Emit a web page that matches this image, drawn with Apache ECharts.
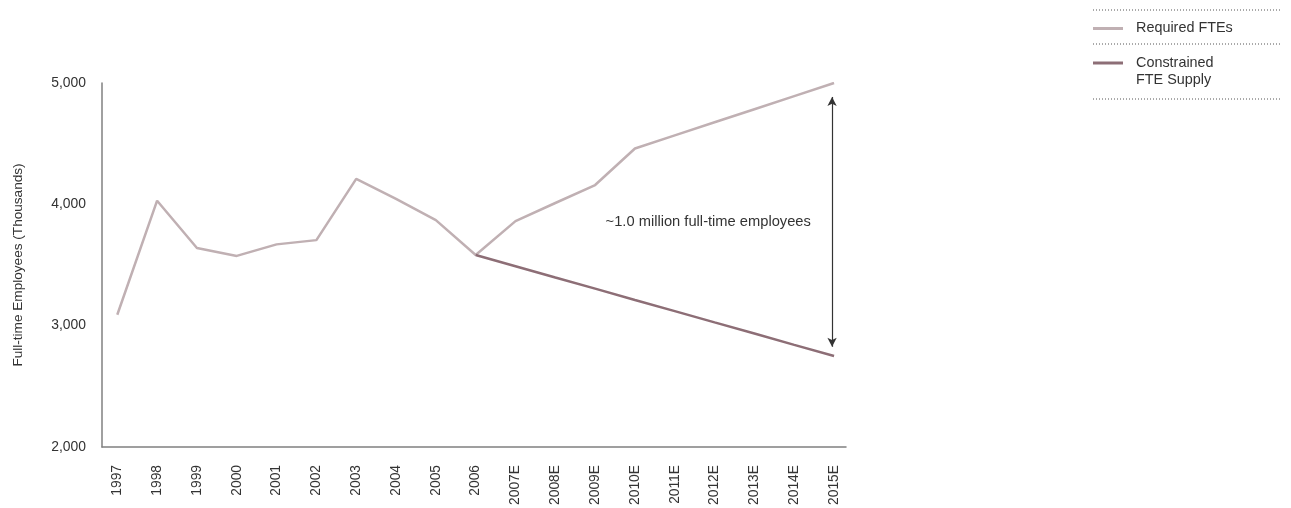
<!DOCTYPE html>
<html>
<head>
<meta charset="utf-8">
<script src="https://cdn.jsdelivr.net/npm/echarts@6/dist/echarts.min.js"></script>
<style>html,body{margin:0;padding:0;background:#fff;}#c{width:1291px;height:508px;}</style>
</head>
<body>
<div id="c"></div>
<script>
const categories = ['1997','1998','1999','2000','2001','2002','2003','2004','2005','2006','2007E','2008E','2009E','2010E','2011E','2012E','2013E','2014E','2015E'];
const requiredFTEs = [3090, 4030, 3640, 3575, 3670, 3705, 4210, 4045, 3870, 3582, 3862, 4011, 4159, 4460, 4568, 4676, 4784, 4892, 5000];
const constrainedSupply = [null, null, null, null, null, null, null, null, null, 3582, 3490, 3397, 3305, 3212, 3120, 3027, 2935, 2842, 2750];
const yTicks = [2000, 3000, 4000, 5000];
const gapLabel = '~1.0 million full-time employees';

const font = 'Liberation Sans, Arial, Helvetica, sans-serif';
const toPairs = arr => arr.map((v, i) => [i, v]);

const chart = echarts.init(document.getElementById('c'), null, {renderer: 'canvas'});
chart.setOption({
  animation: false,
  textStyle: {fontFamily: font},
  grid: {left: 102, right: 445, top: 83, bottom: 61},
  xAxis: {
    type: 'value', min: -0.384, max: 18.3,
    axisLine: {show: true, onZero: false, lineStyle: {color: '#808080', width: 1.5}},
    axisTick: {show: false},
    splitLine: {show: false},
    axisLabel: {
      customValues: categories.map((c, i) => i),
      formatter: v => categories[Math.round(v)],
      rotate: 90, margin: 18, fontSize: 13.8, color: '#333', fontFamily: font
    }
  },
  yAxis: {
    type: 'value', min: 2000, max: 5000, interval: 1000,
    name: 'Full-time Employees (Thousands)', nameLocation: 'middle', nameGap: 77,
    nameTextStyle: {fontSize: 13.6, color: '#333', fontFamily: font},
    axisLine: {show: true, onZero: false, lineStyle: {color: '#808080', width: 1.5}},
    axisTick: {show: false},
    splitLine: {show: false},
    axisLabel: {
      customValues: yTicks,
      formatter: v => v.toLocaleString('en-US'),
      margin: 16, fontSize: 13.9, color: '#333', fontFamily: font
    }
  },
  legend: [
    {
      data: ['Required FTEs'], orient: 'vertical', left: 1093, top: 20, padding: 0,
      itemWidth: 30, itemHeight: 3, itemGap: 0, icon: 'rect',
      textStyle: {fontSize: 14.4, color: '#333', lineHeight: 17, fontFamily: font, padding: [0, 0, 0, 8]}
    },
    {
      data: ['Constrained FTE Supply'], orient: 'vertical', left: 1093, top: 37.5, padding: 0,
      itemWidth: 30, itemHeight: 3, itemGap: 0, icon: 'rect',
      formatter: () => ' \nConstrained\nFTE Supply',
      textStyle: {fontSize: 14.4, color: '#333', lineHeight: 17, fontFamily: font, padding: [0, 0, 0, 8]}
    }
  ],
  graphic: [10, 44, 99].map(y => ({
    type: 'line', silent: true,
    shape: {x1: 1093, y1: y, x2: 1280, y2: y},
    style: {stroke: '#555', lineWidth: 1, lineDash: [1, 2]}
  })),
  series: [
    {
      name: 'Required FTEs', type: 'line', data: toPairs(requiredFTEs),
      symbol: 'none', lineStyle: {color: '#c0b0b3', width: 2.5}, itemStyle: {color: '#c0b0b3'},
      z: 3,
      markLine: {
        silent: true, symbol: ['arrow', 'arrow'], symbolSize: [7, 9],
        lineStyle: {color: '#333', width: 1.2, type: 'solid'},
        label: {show: false},
        data: [[{coord: [17.95, 4885]}, {coord: [17.95, 2826]}]]
      },
      markPoint: {
        silent: true, symbol: 'circle', symbolSize: 0,
        label: {show: true, formatter: gapLabel, fontSize: 14.7, color: '#333', fontFamily: font, position: 'inside'},
        data: [{coord: [14.84, 3855]}]
      }
    },
    {
      name: 'Constrained FTE Supply', type: 'line', data: toPairs(constrainedSupply),
      symbol: 'none', lineStyle: {color: '#8d6e76', width: 2.5}, itemStyle: {color: '#8d6e76'},
      z: 4
    }
  ]
});
</script>
</body>
</html>
